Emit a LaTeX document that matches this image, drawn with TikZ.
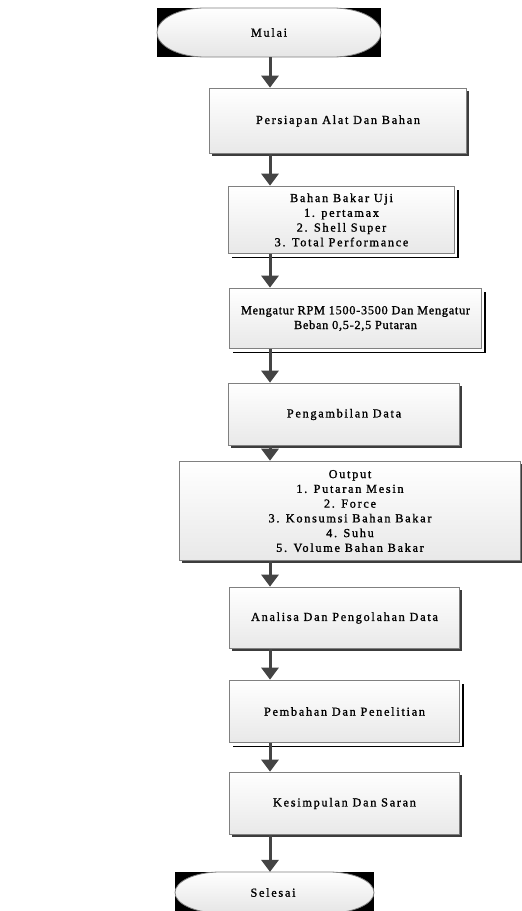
\documentclass[tikz,border=0pt]{standalone}
\usepackage{fontspec}
\setmainfont{Liberation Serif}[LetterSpace=14, FakeBold=1.2]
\newfontfamily\tightfont{Liberation Serif}[LetterSpace=6, FakeBold=1.2]
\usetikzlibrary{arrows.meta,shadows}
\definecolor{bord}{HTML}{808080}
\definecolor{shad}{HTML}{3C3C3C}
\definecolor{arr}{HTML}{444444}
\newcommand\mystadium[5]{%
  \fill[black] (#1,#2) rectangle (#3,#4);
  \path[draw=bord, line width=0.8bp, top color=white, bottom color=black!10]
    ({#1+#5},#2) -- ({#3-#5},#2)
    arc[start angle=90, end angle=-90, x radius=#5, y radius={(#2-#4)/2}]
    -- ({#1+#5},#4)
    arc[start angle=270, end angle=90, x radius=#5, y radius={(#2-#4)/2}] -- cycle;}
\begin{document}
\begin{tikzpicture}[x=1bp,y=1bp,
  txt/.style={font=\fontsize{12.3}{14.8}\selectfont, align=center, text=black},
  box/.style={txt, draw=bord, line width=0.9bp, top color=white, bottom color=black!9, inner sep=0pt,
    general shadow={fill=shad, shadow xshift=2.5bp, shadow yshift=-2.5bp}},
  dblbox/.style={txt, draw=bord, line width=0.9bp, top color=white, bottom color=black!9, inner sep=0pt,
    general shadow={fill=black, shadow xshift=4bp, shadow yshift=-4bp},
    general shadow={fill=white, shadow xshift=2.8bp, shadow yshift=-2.8bp}},
  arrowline/.style={draw=arr, line width=3bp, -{Triangle[width=17bp,length=12bp]}}
]
\useasboundingbox (0,0) rectangle (522,-911);
\fill[white] (0,0) rectangle (522,-911);
% terminals
\mystadium{157}{-8}{381}{-57}{48}
\node[txt, minimum width=224, minimum height=49, inner sep=0pt] (m) at (269,-32.5) {Mulai};
\mystadium{175}{-872}{374}{-913}{45}
\node[txt, minimum width=199, minimum height=41, inner sep=0pt] (s) at (273,-892.5) {Selesai};
% boxes
\node[box, minimum width=258, minimum height=66] (b1) at (338,-121) {Persiapan Alat Dan Bahan};
\node[dblbox, minimum width=227, minimum height=68] (b2) at (341.5,-220) {Bahan Bakar Uji\\1. pertamax\\2. Shell Super\\3. Total Performance};
\node[dblbox, minimum width=253, minimum height=61, font=\tightfont\fontsize{12.3}{14.8}\selectfont] (b3) at (355.5,-318.5) {Mengatur RPM 1500-3500 Dan Mengatur\\Beban 0,5-2,5 Putaran};
\node[box, minimum width=232, minimum height=63] (b4) at (344,-414.5) {Pengambilan Data};
\node[box, minimum width=342, minimum height=100] (b5) at (350,-511) {Output\\1. Putaran Mesin\\2. Force\\3. Konsumsi Bahan Bakar\\4. Suhu\\5. Volume Bahan Bakar};
\node[box, minimum width=231, minimum height=62] (b6) at (344.5,-618) {Analisa Dan Pengolahan Data};
\node[dblbox, minimum width=231, minimum height=63] (b7) at (344.5,-711.5) {Pembahan Dan Penelitian};
\node[box, minimum width=231, minimum height=63] (b8) at (344.5,-803.5) {Kesimpulan Dan Saran};
% arrows
\coordinate (ax) at (270,0);
\draw[arrowline] (ax |- m.south) -- (ax |- b1.north);
\draw[arrowline] (ax |- b1.south) -- (ax |- b2.north);
\draw[arrowline] (ax |- b2.south) -- (ax |- b3.north);
\draw[arrowline] (ax |- b3.south) -- (ax |- b4.north);
\draw[arrowline] (ax |- b4.south) -- (ax |- b5.north);
\draw[arrowline] (ax |- b5.south) -- (ax |- b6.north);
\draw[arrowline] (ax |- b6.south) -- (ax |- b7.north);
\draw[arrowline] (ax |- b7.south) -- (ax |- b8.north);
\draw[arrowline] (ax |- b8.south) -- (ax |- s.north);
\end{tikzpicture}
\end{document}
